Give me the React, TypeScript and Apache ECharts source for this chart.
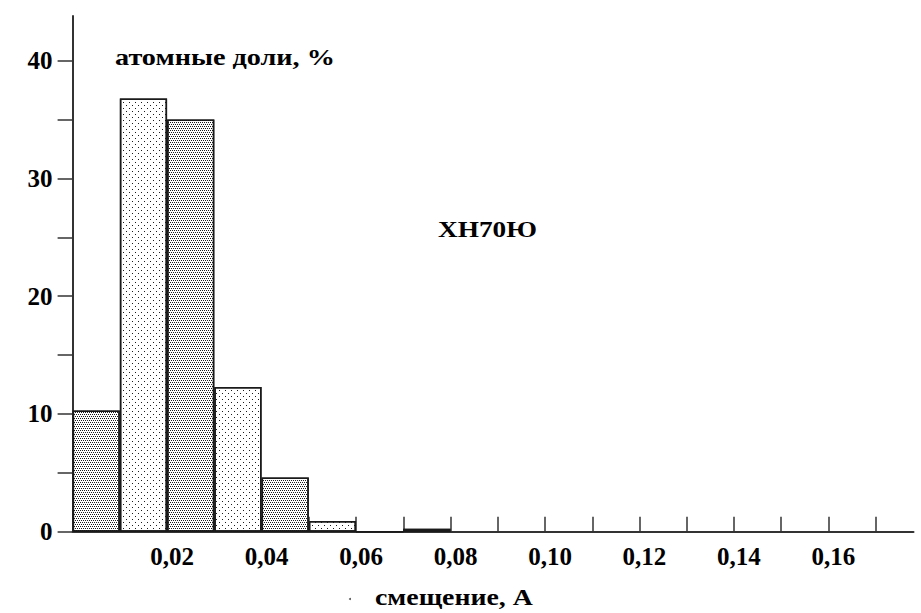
import React, { useEffect, useRef } from "react";
import * as echarts from "echarts";

// Histogram bins (bin centres, width 0.01)
const binCenters = [0.005, 0.015, 0.025, 0.035, 0.045, 0.055, 0.065, 0.075];
const atomShares = [10.3, 36.8, 35.0, 12.3, 4.6, 0.9, 0, 0.25];
const binPatterns = ["dense", "sparse", "dense", "sparse", "dense", "sparse", "none", "none"];

const xTickValues = [0, 0.01, 0.02, 0.03, 0.04, 0.05, 0.06, 0.07, 0.08, 0.09, 0.1, 0.11, 0.12, 0.13, 0.14, 0.15, 0.16, 0.17];
const xLabelValues = [0.02, 0.04, 0.06, 0.08, 0.1, 0.12, 0.14, 0.16];
const xLabelTexts = ["0,02", "0,04", "0,06", "0,08", "0,10", "0,12", "0,14", "0,16"];
const yTickValues = [0, 5, 10, 15, 20, 25, 30, 35, 40];
const yLabelValues = [0, 10, 20, 30, 40];
const yLabelTexts = ["0", "10", "20", "30", "40"];

const yTitle = "атомные доли, %";
const xTitle = "смещение, А";
const alloyLabel = "ХН70Ю";

const FONT = "'Liberation Serif', 'Times New Roman', serif";

function measure(text: string, size: number): number {
  const c = document.createElement("canvas");
  const ctx = c.getContext("2d");
  if (!ctx) return text.length * size * 0.5;
  ctx.font = `bold ${size}px ${FONT}`;
  return ctx.measureText(text).width;
}

const decals: Record<string, any> = {
  dense: {
    symbol: "rect",
    symbolSize: 1,
    color: "#1a1a1a",
    dashArrayX: [[1, 1], [0, 1, 1, 0]],
    dashArrayY: [1, 1],
    rotation: 0,
  },
  sparse: {
    symbol: "rect",
    symbolSize: 1,
    color: "#1a1a1a",
    dashArrayX: [[1, 5], [0, 3, 1, 2]],
    dashArrayY: [1, 2],
    rotation: 0,
  },
};

export default function App() {
  const ref = useRef<HTMLDivElement>(null);

  useEffect(() => {
    if (!ref.current) return;
    const chart = echarts.init(ref.current, undefined, { renderer: "svg" });

    const fitText = (text: string, x: number, y: number, size: number, width: number) => ({
      type: "text",
      x,
      y,
      scaleX: width / measure(text, size),
      style: {
        text,
        fontFamily: FONT,
        fontWeight: "bold",
        fontSize: size,
        fill: "#000",
        textAlign: "left",
        textVerticalAlign: "middle",
      },
    });

    const option: any = {
      animation: false,
      backgroundColor: "#fff",
      grid: { left: 72.6, top: 16, width: 840.9, bottom: 81.3, containLabel: false },
      xAxis: {
        type: "value",
        min: 0,
        max: 0.178,
        interval: 0.01,
        splitLine: { show: false },
        axisLine: { show: true, onZero: false, lineStyle: { color: "#333", width: 2 } },
        axisTick: {
          show: true,
          inside: true,
          length: 15,
          customValues: xTickValues,
          lineStyle: { color: "#333", width: 1.5 },
        },
        axisLabel: {
          customValues: xLabelValues,
          margin: 12,
          padding: [0, 0, 0, 10],
          fontFamily: FONT,
          fontWeight: "bold",
          fontSize: 25,
          color: "#000",
          formatter: (v: number) => {
            const i = xLabelValues.findIndex((t) => Math.abs(t - v) < 1e-6);
            return i >= 0 ? xLabelTexts[i] : "";
          },
        },
      },
      yAxis: {
        type: "value",
        min: 0,
        max: 43.8,
        interval: 5,
        splitLine: { show: false },
        axisLine: { show: true, lineStyle: { color: "#333", width: 2 } },
        axisTick: {
          show: true,
          length: 15,
          customValues: yTickValues,
          lineStyle: { color: "#333", width: 1.5 },
        },
        axisLabel: {
          customValues: yLabelValues,
          margin: 20,
          fontFamily: FONT,
          fontWeight: "bold",
          fontSize: 25,
          color: "#000",
          formatter: (v: number) => {
            const i = yLabelValues.findIndex((t) => Math.abs(t - v) < 1e-6);
            return i >= 0 ? yLabelTexts[i] : "";
          },
        },
      },
      series: [
        {
          type: "bar",
          barWidth: "100%",
          data: binCenters.map((x, i) => ({
            value: [x, atomShares[i]],
            itemStyle: {
              color: "#fff",
              borderColor: "#1a1a1a",
              borderWidth: 1.5,
              decal: decals[binPatterns[i]] || { symbol: "none", color: "rgba(0,0,0,0)" },
            },
          })),
        },
      ],
      graphic: [
        fitText(yTitle, 115, 57.5, 23, 220),
        fitText(alloyLabel, 438, 229.5, 23, 99),
        fitText(xTitle, 375, 597.5, 23, 158),
        { type: "circle", shape: { cx: 350, cy: 599, r: 1 }, style: { fill: "#555" } },
      ],
    };

    chart.setOption(option);
    return () => chart.dispose();
  }, []);

  return (
    <div
      ref={ref}
      style={{ position: "fixed", left: 0, top: 0, width: 921, height: 613, background: "#fff" }}
    />
  );
}
